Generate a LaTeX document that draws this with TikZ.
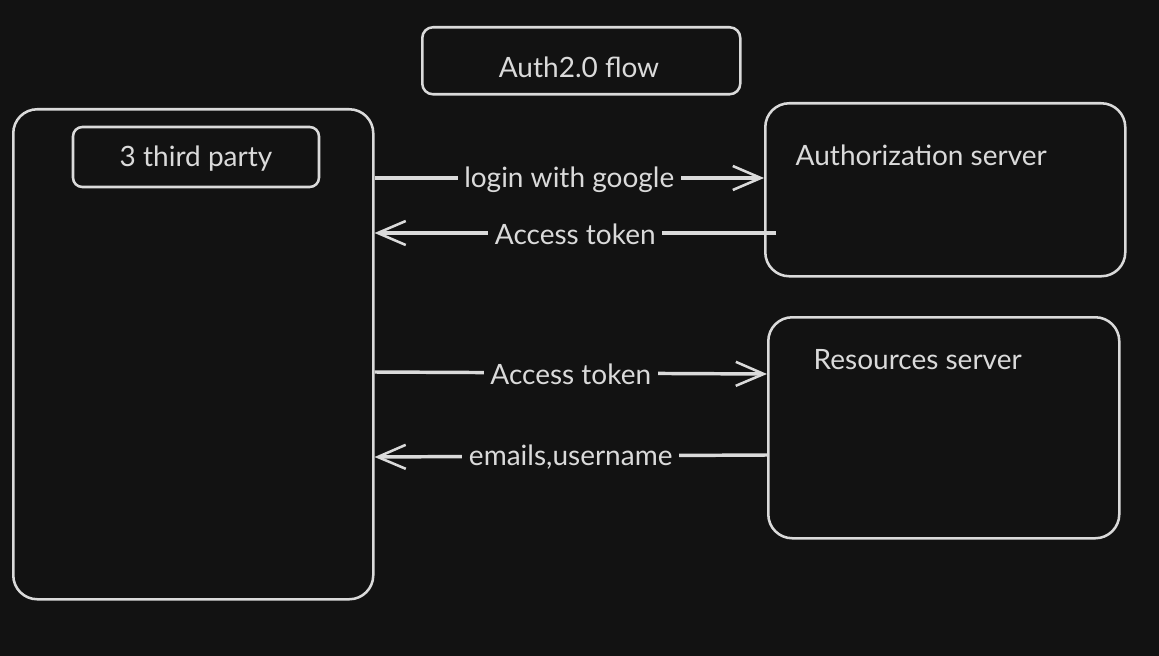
\documentclass[tikz,border=0pt]{standalone}
\usepackage{fontspec}
\setmainfont{Lato}
\usetikzlibrary{arrows.meta,calc}
\definecolor{bg}{HTML}{121212}
\definecolor{ink}{HTML}{DADADA}
\tikzset{
  box/.style={draw=ink, line width=1.9pt, rounded corners=#1, inner sep=0pt},
  box/.default=8pt,
  lbl/.style={text=ink, font=\fontsize{21}{24}\selectfont, yshift=-1.5pt},
  arr/.style={draw=ink, line width=2.6pt, -{Straight Barb[length=21pt,width=18pt,line width=1.9pt]}},
  cut/.style={fill=bg, text=ink, font=\fontsize{21}{24}\selectfont, inner xsep=5pt, inner ysep=2pt, yshift=-1pt}
}
\begin{document}
\begin{tikzpicture}[x=0.75pt,y=-0.75pt]
\fill[bg] (0,0) rectangle (1159,656);
\useasboundingbox (0,0) rectangle (1159,656);
% boxes
\node[box=8pt, minimum width=238.5pt, minimum height=50.25pt, anchor=north west] (titlebox) at (421,26) {};
\node[lbl] (title) at (579,65) {Auth2.0 flow};
\node[box=18pt, minimum width=270pt, minimum height=367.5pt, anchor=north west] (client) at (12,108) {};
\node[box=7pt, minimum width=184.5pt, minimum height=45pt] (tp) at (196,157) {};
\node[lbl] (tplbl) at (tp.center) {3 third party};
\node[box=18pt, minimum width=270pt, minimum height=129.75pt, anchor=north west] (auth) at (764,102) {};
\node[lbl, anchor=west] (authlbl) at (791,153) {Authorization server};
\node[box=18pt, minimum width=263.25pt, minimum height=165.75pt, anchor=north west] (res) at (767,316) {};
\node[lbl, anchor=west] (reslbl) at (809,358) {Resources server};
% arrows
\draw[arr] (client.east |- 0,178) -- node[cut] {login with google} (auth.west |- 0,178);
\draw[arr] ($(auth.west |- 0,233)+(12,0)$) -- node[cut] {Access token} (client.east |- 0,233);
\draw[arr] (client.east |- 0,372) -- node[cut] {Access token} (res.west |- 0,374);
\draw[arr] (res.west |- 0,455) -- node[cut] {emails,username} (client.east |- 0,457);
\end{tikzpicture}
\end{document}
